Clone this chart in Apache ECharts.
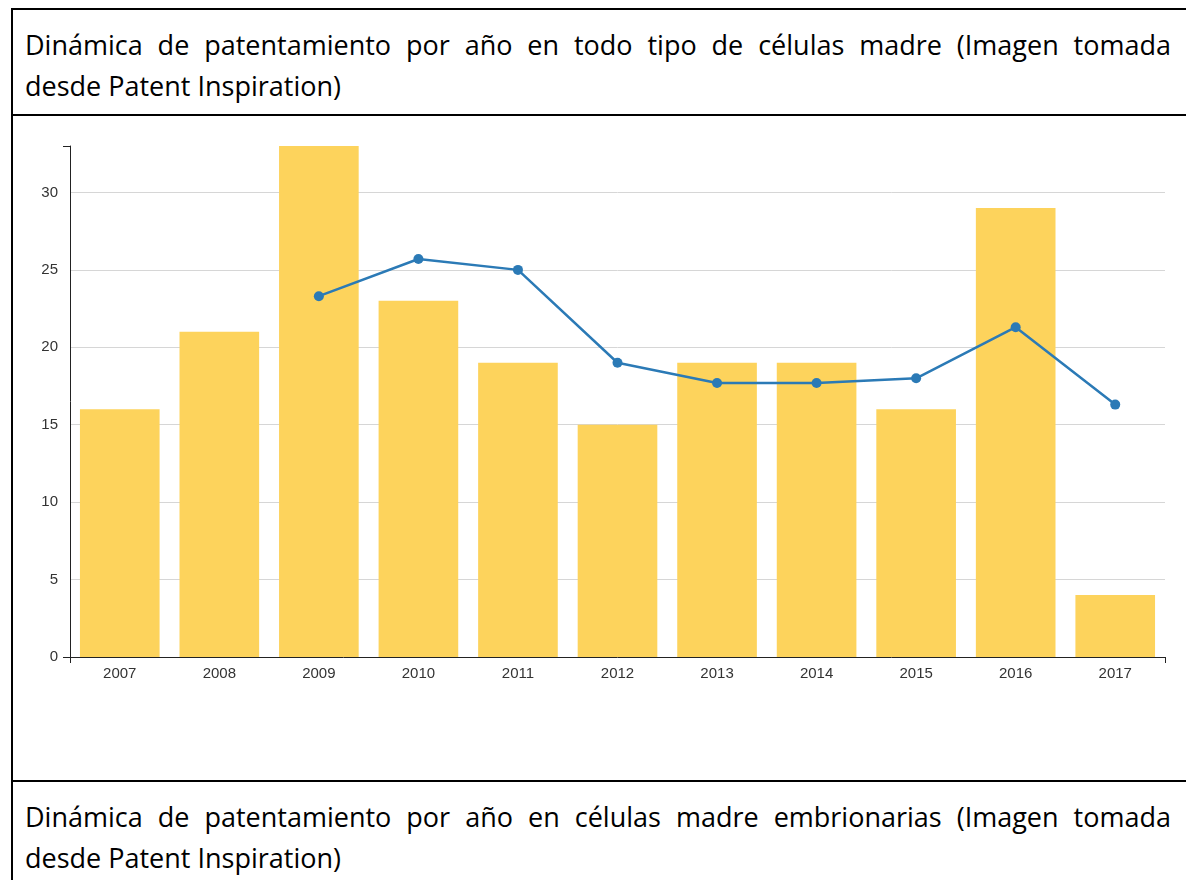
<!DOCTYPE html>
<html>
<head>
<meta charset="utf-8">
<title>Dinámica de patentamiento</title>
<script src="https://cdn.jsdelivr.net/npm/echarts@6/dist/echarts.min.js"></script>
<style>
  html, body { margin: 0; padding: 0; background: #fff; }
  body { width: 1186px; height: 880px; overflow: hidden; position: relative; }
  .frame { position: absolute; left: 11px; top: 8px; width: 1200px; height: 900px;
           border-left: 2px solid #000; border-top: 2px solid #000; }
  .rule { position: absolute; left: 11px; width: 1200px; height: 2px; background: #000; }
  .caption { position: absolute; left: 25px; width: 1146px; color: #000;
             font-family: "Open Sans", "Noto Sans", sans-serif; font-size: 27px; line-height: 41px; }
  .caption .first { text-align: justify; text-align-last: justify; }
  #chart { position: absolute; left: 0; top: 0; width: 1186px; height: 880px; }
</style>
</head>
<body>
<div class="frame"></div>
<div class="rule" style="top:114px"></div>
<div class="rule" style="top:780px"></div>
<div class="caption" style="top:24px">
  <div class="first">Dinámica de patentamiento por año en todo tipo de células madre (Imagen tomada</div>
  <div>desde Patent Inspiration)</div>
</div>
<div class="caption" style="top:796px">
  <div class="first">Dinámica de patentamiento por año en células madre embrionarias (Imagen tomada</div>
  <div>desde Patent Inspiration)</div>
</div>
<div id="chart"></div>
<script>
// años
const years = ['2007', '2008', '2009', '2010', '2011', '2012', '2013', '2014', '2015', '2016', '2017'];
// patentes por año (barras)
const patents = [16, 21, 33, 23, 19, 15, 19, 19, 16, 29, 4];
// línea de tendencia
const trend = ['-', '-', 23.3, 25.7, 25, 19, 17.7, 17.7, 18, 21.3, 16.3];

document.addEventListener('DOMContentLoaded', function() {
  const chart = echarts.init(document.getElementById('chart'), null, { renderer: 'canvas' });
  const labelStyle = { color: '#333', fontSize: 15, fontFamily: 'Liberation Sans, Arial, sans-serif' };

  chart.setOption({
    animation: false,
    backgroundColor: 'transparent',
    grid: { left: 70, top: 146, width: 1095, height: 511 },
    xAxis: [
      {
        type: 'category',
        data: years,
        boundaryGap: true,
        axisLine: { lineStyle: { color: '#222', width: 1 } },
        axisTick: { show: false },
        axisLabel: Object.assign({ margin: 9 }, labelStyle)
      },
      {
        // solo marcas en los extremos
        type: 'value',
        position: 'bottom',
        min: 0, max: 1, interval: 1,
        axisLine: { show: false },
        axisTick: { show: true, length: 6, lineStyle: { color: '#222' } },
        axisLabel: { show: false },
        splitLine: { show: false }
      }
    ],
    yAxis: [
      {
        type: 'value',
        min: 0, max: 33, interval: 5,
        axisLine: { show: true, onZero: false, lineStyle: { color: '#222', width: 1 } },
        axisTick: { show: false },
        axisLabel: Object.assign({ margin: 12, showMaxLabel: false }, labelStyle),
        splitLine: { show: true, showMinLine: false, showMaxLine: false, lineStyle: { color: '#d6d6d6' } }
      },
      {
        type: 'value',
        position: 'left',
        min: 0, max: 33, interval: 33,
        axisLine: { show: false, onZero: false },
        axisTick: { show: true, length: 7, lineStyle: { color: '#222' } },
        axisLabel: { show: false },
        splitLine: { show: false }
      }
    ],
    series: [
      {
        type: 'bar',
        data: patents,
        barCategoryGap: '20%',
        itemStyle: { color: '#fdd35c' }
      },
      {
        type: 'line',
        data: trend,
        symbol: 'circle',
        symbolSize: 10,
        lineStyle: { color: '#2b7ab6', width: 2.5 },
        itemStyle: { color: '#2b7ab6' }
      }
    ]
  });
});
</script>
</body>
</html>
